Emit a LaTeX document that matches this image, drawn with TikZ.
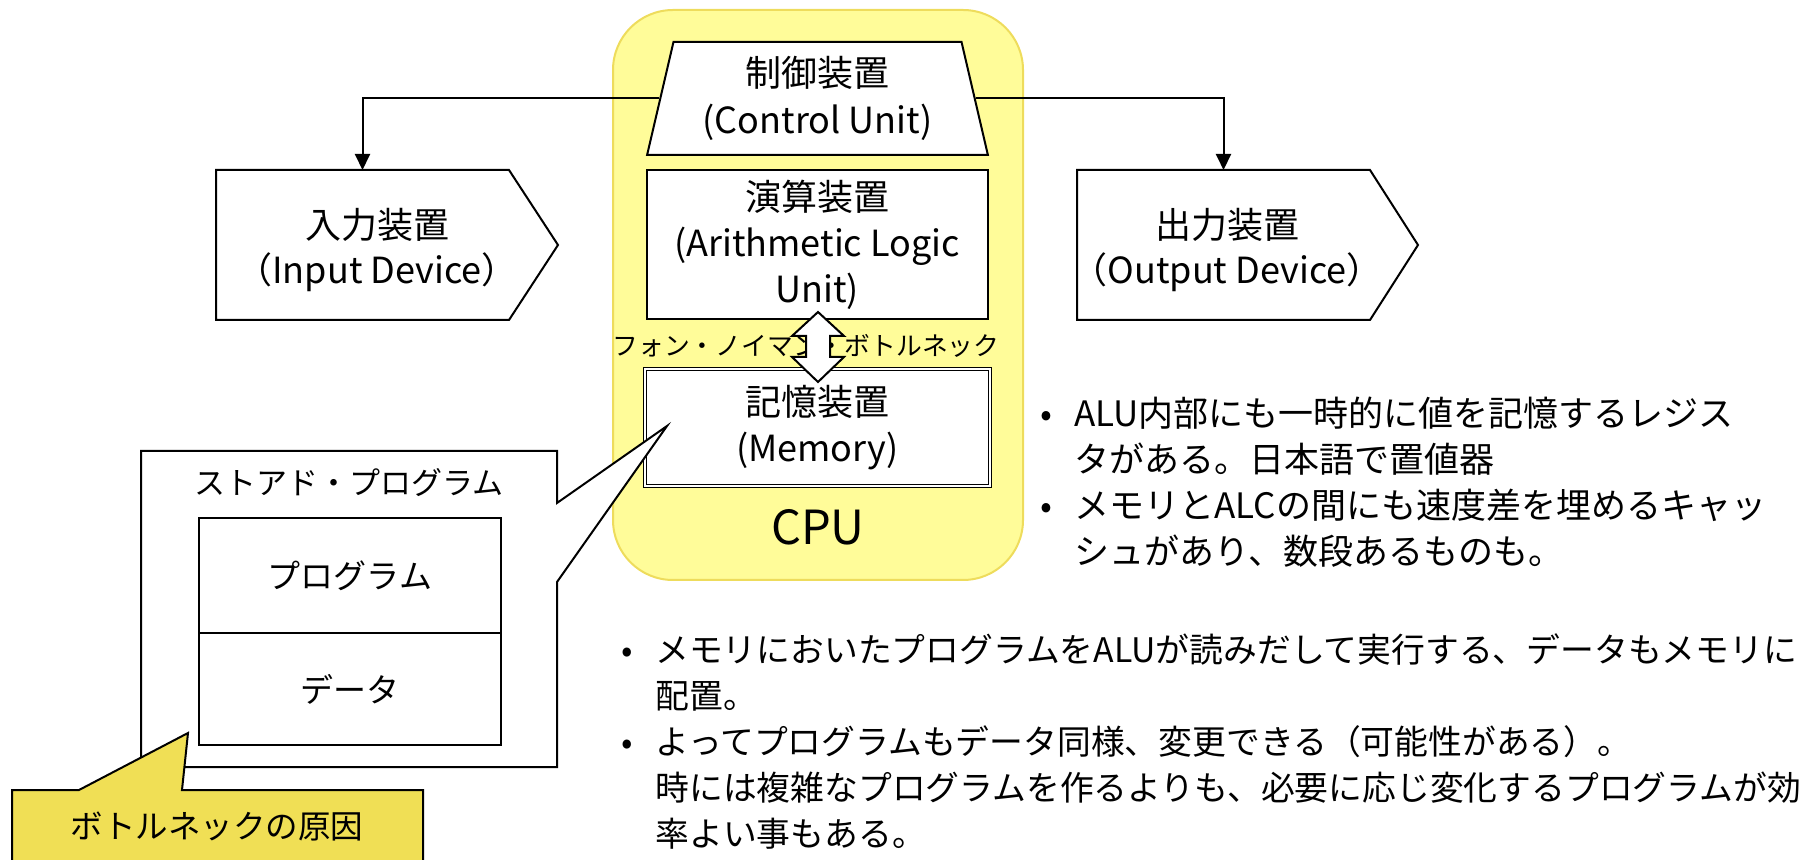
\documentclass[tikz,border=0pt]{standalone}
\usepackage{fontspec}
\setmainfont{Noto Sans CJK JP}
\usetikzlibrary{positioning, shapes.geometric, arrows.meta}
\definecolor{CpuFill}{HTML}{FFFC99}
\definecolor{CpuLine}{HTML}{EEDC5C}
\definecolor{NoteFill}{HTML}{F0DF55}
\newcommand{\bul}{\makebox[17pt][l]{•}}
\newcommand{\ind}{\hspace*{17pt}}
\tikzset{
    cpubox/.style={rectangle, rounded corners=30pt, fill=CpuFill, draw=CpuLine, line width=1pt},
    unitbox/.style={rectangle, draw, fill=white, line width=1pt, align=center, inner sep=0pt, font=\fontsize{18}{23}\selectfont},
    cubox/.style={trapezium, trapezium stretches=true, trapezium angle=76, draw, fill=white, line width=1pt, align=center, inner sep=0pt, font=\fontsize{18}{23.5}\selectfont},
    memobox/.style={double=white, double distance=0.9pt, line width=0.7pt},
    devline/.style={draw, fill=white, line width=1pt},
    devtext/.style={align=center, inner sep=0pt, font=\fontsize{18}{22.5}\selectfont},
    cellbox/.style={rectangle, draw, line width=1pt, outer sep=0pt, minimum width=151pt, font=\fontsize{16.5}{20}\selectfont},
    conn/.style={-{Triangle[length=8pt, width=7.5pt]}, line width=1pt},
    notetext/.style={align=left, anchor=north west, inner sep=0pt},
}
\begin{document}
\begin{tikzpicture}[x=0.5pt, y=-0.5pt]
    \useasboundingbox (0,0) rectangle (1815,860);

    % CPU
    \node[cpubox, minimum width=205pt, minimum height=285pt] (cpu) at (818,295) {};
    \node[font=\fontsize{23.5}{28}\selectfont] (cpulabel) at (818,527) {CPU};

    % 制御装置
    \node[cubox, minimum width=170.5pt, minimum height=56.5pt] (cu) at (817.5,98.5) {制御装置\\(Control Unit)};

    % 演算装置
    \node[unitbox, minimum width=170.5pt, minimum height=74.5pt] (alu) at (817,245) {演算装置\\(Arithmetic Logic\\Unit)};

    % ボトルネック
    \node[font=\fontsize{12.9}{15}\selectfont] (neck) at (806,346) {フォン・ノイマン・ボトルネック};

    % 記憶装置
    \node[unitbox, memobox, minimum width=172.5pt, minimum height=58.5pt] (mem) at (817.5,427.5) {記憶装置\\(Memory)};

    % 双方向の矢印
    \draw[fill=white, line width=1pt] (818,312) -- (844,336) -- (830,336) -- (830,357) -- (844,357)
        -- (818,382) -- (792,357) -- (806,357) -- (806,336) -- (792,336) -- cycle;

    % 入力装置
    \draw[devline] (216,170) -- (509,170) -- (558,245) -- (509,320) -- (216,320) -- cycle;
    \node[devtext] (in) at (377,250) {入力装置\\（Input Device）};
    \coordinate (intop) at (362.5,170);

    % 出力装置
    \draw[devline] (1077,170) -- (1370,170) -- (1418,245) -- (1370,320) -- (1077,320) -- cycle;
    \node[devtext] (out) at (1227,250) {出力装置\\（Output Device）};
    \coordinate (outtop) at (1223.5,170);

    \draw[conn] (cu.west) -| (intop);
    \draw[conn] (cu.east) -| (outtop);

    % ストアド・プログラム
    \draw[devline] (141,451) -- (557,451) -- (557,503) -- (667,426) -- (557,582) -- (557,767) -- (141,767) -- cycle;
    \node[font=\fontsize{15.5}{18}\selectfont] (sptitle) at (349,483) {ストアド・プログラム};
    \node[cellbox, minimum height=57.5pt] (prog) at (350,575.5) {プログラム};
    \node[cellbox, minimum height=56pt, below=0pt of prog] (data) {データ};

    % ボトルネックの原因
    \draw[fill=NoteFill, line width=1pt] (12,866) -- (12,790) -- (79,790) -- (188,733) -- (182,790) -- (423,790) -- (423,866);
    \node[font=\fontsize{16.25}{20}\selectfont] (cause) at (217,826) {ボトルネックの原因};

    % 補足
    \node[notetext, font=\fontsize{17.5}{23}\selectfont] (regnote) at (1040,397)
        {\bul ALU内部にも一時的に値を記憶するレジス\\\ind タがある。日本語で置値器\\\bul メモリとALCの間にも速度差を埋めるキャッ\\\ind シュがあり、数段あるものも。};
    \node[notetext, font=\fontsize{16.9}{23}\selectfont] (prognote) at (621,633)
        {\bul メモリにおいたプログラムをALUが読みだして実行する、データもメモリに\\\ind 配置。\\\bul よってプログラムもデータ同様、変更できる（可能性がある）。\\\ind 時には複雑なプログラムを作るよりも、必要に応じ変化するプログラムが効\\\ind 率よい事もある。};
\end{tikzpicture}
\end{document}
